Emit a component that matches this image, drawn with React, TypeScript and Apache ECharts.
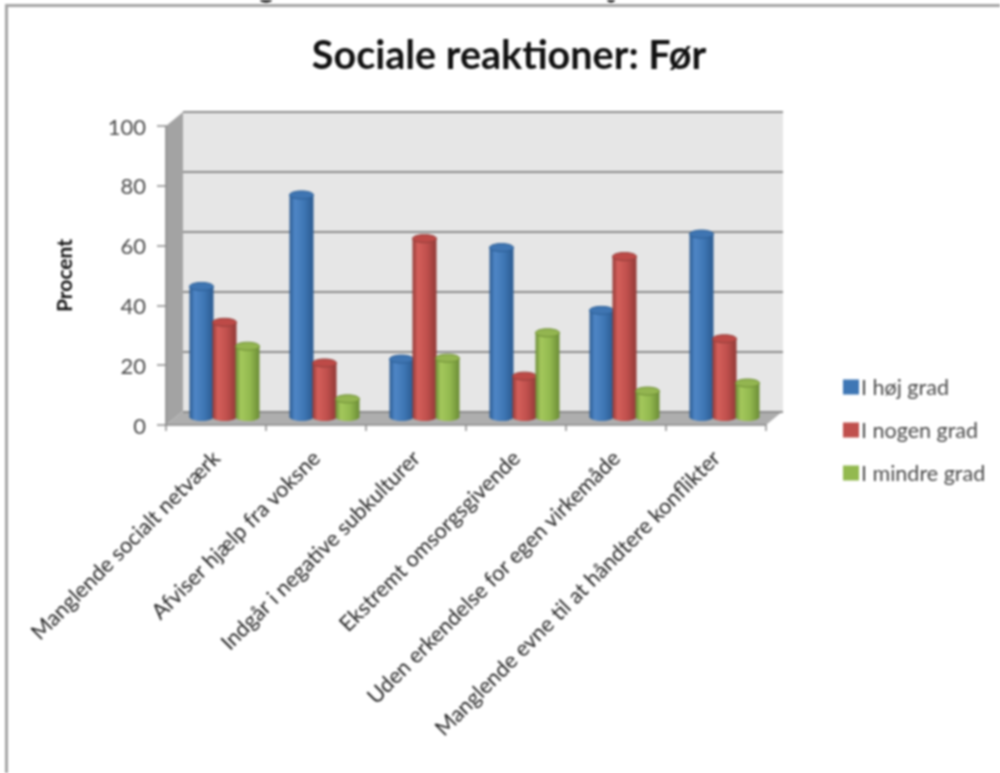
import React, { useEffect, useRef } from "react";
import * as echarts from "echarts";

const categories = [
  "Manglende socialt netværk",
  "Afviser hjælp fra voksne",
  "Indgår i negative subkulturer",
  "Ekstremt omsorgsgivende",
  "Uden erkendelse for egen virkemåde",
  "Manglende evne til at håndtere konflikter",
];
const hoejGrad = [44, 74.6, 19.7, 57, 36, 61.5];
const nogenGrad = [32, 18.4, 60, 14, 54, 26.5];
const mindreGrad = [24, 6.4, 20, 28.5, 9, 11.7];
const seriesNames = ["I høj grad", "I nogen grad", "I mindre grad"];
const yTicks = { min: 0, max: 100, interval: 20 };

const FONT = "Lato, 'Open Sans', sans-serif";
const palette = [
  { base: "#3f77b5", dark: "#2a5a90", light: "#4f86c6", top: "#3f75b2", rim: "#2d5f96" },
  { base: "#c0504d", dark: "#923a37", light: "#d45f5a", top: "#bd4a47", rim: "#93403c" },
  { base: "#93b94f", dark: "#6b8c36", light: "#a4c85c", top: "#93b550", rim: "#6f8f36" },
];

const renderCylinder = (params: any, api: any) => {
  const s = params.seriesIndex;
  const c = palette[s];
  const idx = api.value(0);
  const top = api.coord([idx, api.value(1)]);
  const base = api.coord([idx, 0]);
  const w = 24;
  const ry = 4;
  const cx = top[0] + 8.5 + (s - 1) * 23;
  const yTop = top[1] - 7;
  const yBase = base[1] - 8;
  const grad = new echarts.graphic.LinearGradient(0, 0, 1, 0, [
    { offset: 0, color: c.dark },
    { offset: 0.22, color: c.light },
    { offset: 0.6, color: c.base },
    { offset: 1, color: c.dark },
  ]);
  return {
    type: "group",
    children: [
      { type: "ellipse", shape: { cx, cy: yBase, rx: w / 2, ry }, style: { fill: grad } },
      { type: "rect", shape: { x: cx - w / 2, y: yTop, width: w, height: yBase - yTop }, style: { fill: grad } },
      { type: "ellipse", shape: { cx, cy: yTop, rx: w / 2, ry }, style: { fill: c.top, stroke: c.rim, lineWidth: 1 } },
    ],
  };
};

const makeSeries = (name: string, values: number[], i: number) => ({
  type: "custom",
  name,
  xAxisIndex: 0,
  yAxisIndex: 0,
  z: 5 + i,
  itemStyle: { color: palette[i].base },
  renderItem: renderCylinder,
  data: values.map((v, k) => [k, v]),
  encode: { x: 0, y: 1 },
});

export default function App() {
  const ref = useRef<HTMLDivElement | null>(null);
  useEffect(() => {
    const chart = echarts.init(ref.current as HTMLDivElement, undefined, { renderer: "svg" });
    chart.setOption({
      animation: false,
      backgroundColor: "#ffffff",
      title: {
        text: "Sociale reaktioner: Før",
        left: 504,
        top: 28,
        textAlign: "center",
        textStyle: { fontFamily: FONT, fontSize: 39.5, fontWeight: "bold", color: "#111111" },
      },
      legend: {
        orient: "vertical",
        left: 838,
        top: 371,
        itemWidth: 16,
        itemHeight: 15,
        itemGap: 21,
        icon: "rect",
        data: seriesNames,
        textStyle: { fontFamily: FONT, fontSize: 21.5, color: "#4a4a4a", padding: [0, 0, 0, -3] },
      },
      grid: [
        { left: 166, top: 126, width: 600, height: 299, containLabel: false },
        { left: 183, top: 112, width: 600, height: 300, show: true, backgroundColor: "#e6e6e6", borderWidth: 0, z: 0 },
      ],
      xAxis: [
        {
          type: "category",
          gridIndex: 0,
          data: categories,
          axisLine: { lineStyle: { color: "#8a8a8a", width: 1.5 } },
          axisTick: { show: true, length: 6, lineStyle: { color: "#8a8a8a", width: 1.5 } },
          axisLabel: { rotate: 45, interval: 0, margin: 29, fontFamily: FONT, fontSize: 21.7, color: "#262626" },
        },
        {
          type: "category",
          gridIndex: 1,
          data: categories,
          show: false,
        },
      ],
      yAxis: [
        {
          type: "value",
          gridIndex: 0,
          ...yTicks,
          name: "Procent",
          nameLocation: "middle",
          nameGap: 92,
          nameRotate: 90,
          nameTextStyle: { fontFamily: FONT, fontSize: 21, fontWeight: "bold", color: "#111111" },
          axisLine: { show: true, lineStyle: { color: "#8a8a8a", width: 1.5 } },
          axisTick: { show: true, length: 9, lineStyle: { color: "#8a8a8a", width: 1.5 } },
          axisLabel: { margin: 20, fontFamily: FONT, fontSize: 22, color: "#4a4a4a" },
          splitLine: { show: false },
        },
        {
          type: "value",
          gridIndex: 1,
          ...yTicks,
          axisLine: { show: false },
          axisTick: { show: false },
          axisLabel: { show: false },
          splitLine: { show: true, lineStyle: { color: "#8c8c8c", width: 2 } },
        },
      ],
      graphic: [
        {
          type: "polygon",
          z: -1,
          silent: true,
          shape: { points: [[166, 126], [183, 112], [183, 411], [166, 425]] },
          style: { fill: "#a3a3a3" },
        },
        {
          type: "polygon",
          z: -1,
          silent: true,
          shape: { points: [[166, 425], [766, 425], [783, 411], [183, 411]] },
          style: { fill: "#aeaeae" },
        },
        {
          type: "polyline",
          silent: true,
          z: -1,
          shape: { points: [[6.5, 773], [6.5, 5.5], [1000, 5.5]] },
          style: { stroke: "#a5a5a5", lineWidth: 3, fill: "none" },
        },
        { type: "ellipse", silent: true, shape: { cx: 266, cy: 0, rx: 6, ry: 2.5 }, style: { fill: "#111111" } },
        { type: "ellipse", silent: true, shape: { cx: 611, cy: 0, rx: 4, ry: 2.5 }, style: { fill: "#111111" } },
      ],
      series: [
        makeSeries(seriesNames[0], hoejGrad, 0),
        makeSeries(seriesNames[1], nogenGrad, 1),
        makeSeries(seriesNames[2], mindreGrad, 2),
      ],
    });
    return () => chart.dispose();
  }, []);
  return (
    <div
      ref={ref}
      style={{ position: "absolute", left: 0, top: 0, width: 1000, height: 773, filter: "blur(0.8px)" }}
    />
  );
}
